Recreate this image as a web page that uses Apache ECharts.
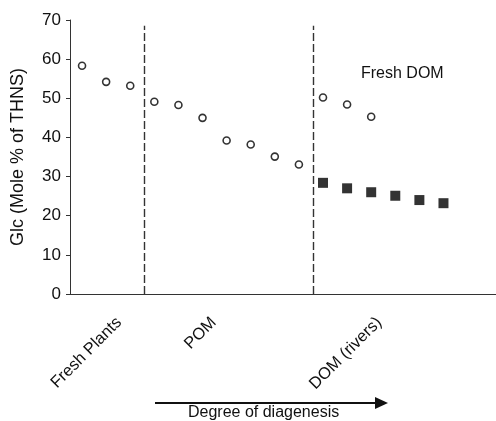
<!DOCTYPE html>
<html>
<head>
<meta charset="utf-8">
<script src="https://cdn.jsdelivr.net/npm/echarts@6/dist/echarts.min.js"></script>
<style>html,body{margin:0;padding:0;background:#fff}#c{width:496px;height:421px}</style>
</head>
<body>
<div id="c"></div>
<script>
// Data (x = sample position along the diagenesis sequence, y = Glc mole %)
const openX = [1, 2, 3, 4, 5, 6, 7, 8, 9, 10, 11, 12, 13];
const openY = [58.3, 54.2, 53.2, 49.1, 48.3, 45.0, 39.2, 38.2, 35.1, 33.1, 50.2, 48.4, 45.3];
const riverX = [11, 12, 13, 14, 15, 16];
const riverY = [28.4, 27.0, 26.0, 25.1, 24.0, 23.2];
const dividers = [3.57, 10.58];
const dividerTop = 68.5;
const groupLabels = ['Fresh Plants', 'POM', 'DOM (rivers)'];
const groupLabelAt = [2.54, 6.47, 13.33];
const yTicks = [0, 10, 20, 30, 40, 50, 60, 70];

const FONT = 'Liberation Sans, Arial, sans-serif';
const chart = echarts.init(document.getElementById('c'), null, {renderer: 'canvas'});

const labelMap = {};
groupLabelAt.forEach((v, i) => { labelMap[v] = groupLabels[i]; });

chart.setOption({
  animation: false,
  backgroundColor: '#fff',
  grid: {left: 70, right: 0, top: 20, bottom: 127, containLabel: false},
  xAxis: {
    type: 'value', min: 0.5, max: 18.18,
    axisLine: {show: true, onZero: false, lineStyle: {color: '#333', width: 1.2}},
    axisTick: {show: false},
    splitLine: {show: false},
    axisLabel: {
      customValues: groupLabelAt,
      rotate: 45, margin: 26,
      fontFamily: FONT, fontSize: 16.5, color: '#111',
      formatter: v => labelMap[v] || ''
    }
  },
  yAxis: {
    type: 'value', min: yTicks[0], max: yTicks[yTicks.length - 1], interval: 10,
    name: 'Glc (Mole % of THNS)', nameLocation: 'middle', nameGap: 43, nameRotate: 90,
    nameTextStyle: {fontFamily: FONT, fontSize: 18, color: '#111'},
    axisLine: {show: true, lineStyle: {color: '#333', width: 1}},
    axisTick: {show: true, length: 4, lineStyle: {color: '#333'}},
    splitLine: {show: false},
    axisLabel: {fontFamily: FONT, fontSize: 17, color: '#111', margin: 9}
  },
  series: [
    {
      type: 'scatter', name: 'open',
      data: openX.map((x, i) => [x, openY[i]]),
      symbol: 'circle', symbolSize: 7,
      itemStyle: {color: '#fff', borderColor: '#000', borderWidth: 1.6},
      z: 3,
      markLine: {
        silent: true, symbol: 'none', label: {show: false},
        lineStyle: {color: '#333', type: [8, 3], width: 1.4},
        data: dividers.map(d => [{coord: [d, 0]}, {coord: [d, dividerTop]}])
      }
    },
    {
      type: 'scatter', name: 'rivers',
      data: riverX.map((x, i) => [x, riverY[i]]),
      symbol: 'rect', symbolSize: 10,
      itemStyle: {color: '#000'},
      z: 3
    }
  ],
  graphic: [
    {type: 'text', left: 361, top: 66,
     style: {text: 'Fresh DOM', font: '16px ' + FONT, fill: '#111'}},
    {type: 'line', shape: {x1: 155, y1: 403, x2: 377, y2: 403},
     style: {stroke: '#111', lineWidth: 2}},
    {type: 'polygon', shape: {points: [[375, 397], [388, 403], [375, 409]]},
     style: {fill: '#111'}},
    {type: 'text', left: 188, top: 405,
     style: {text: 'Degree of diagenesis', font: '16px ' + FONT, fill: '#111'}}
  ]
});
</script>
</body>
</html>
